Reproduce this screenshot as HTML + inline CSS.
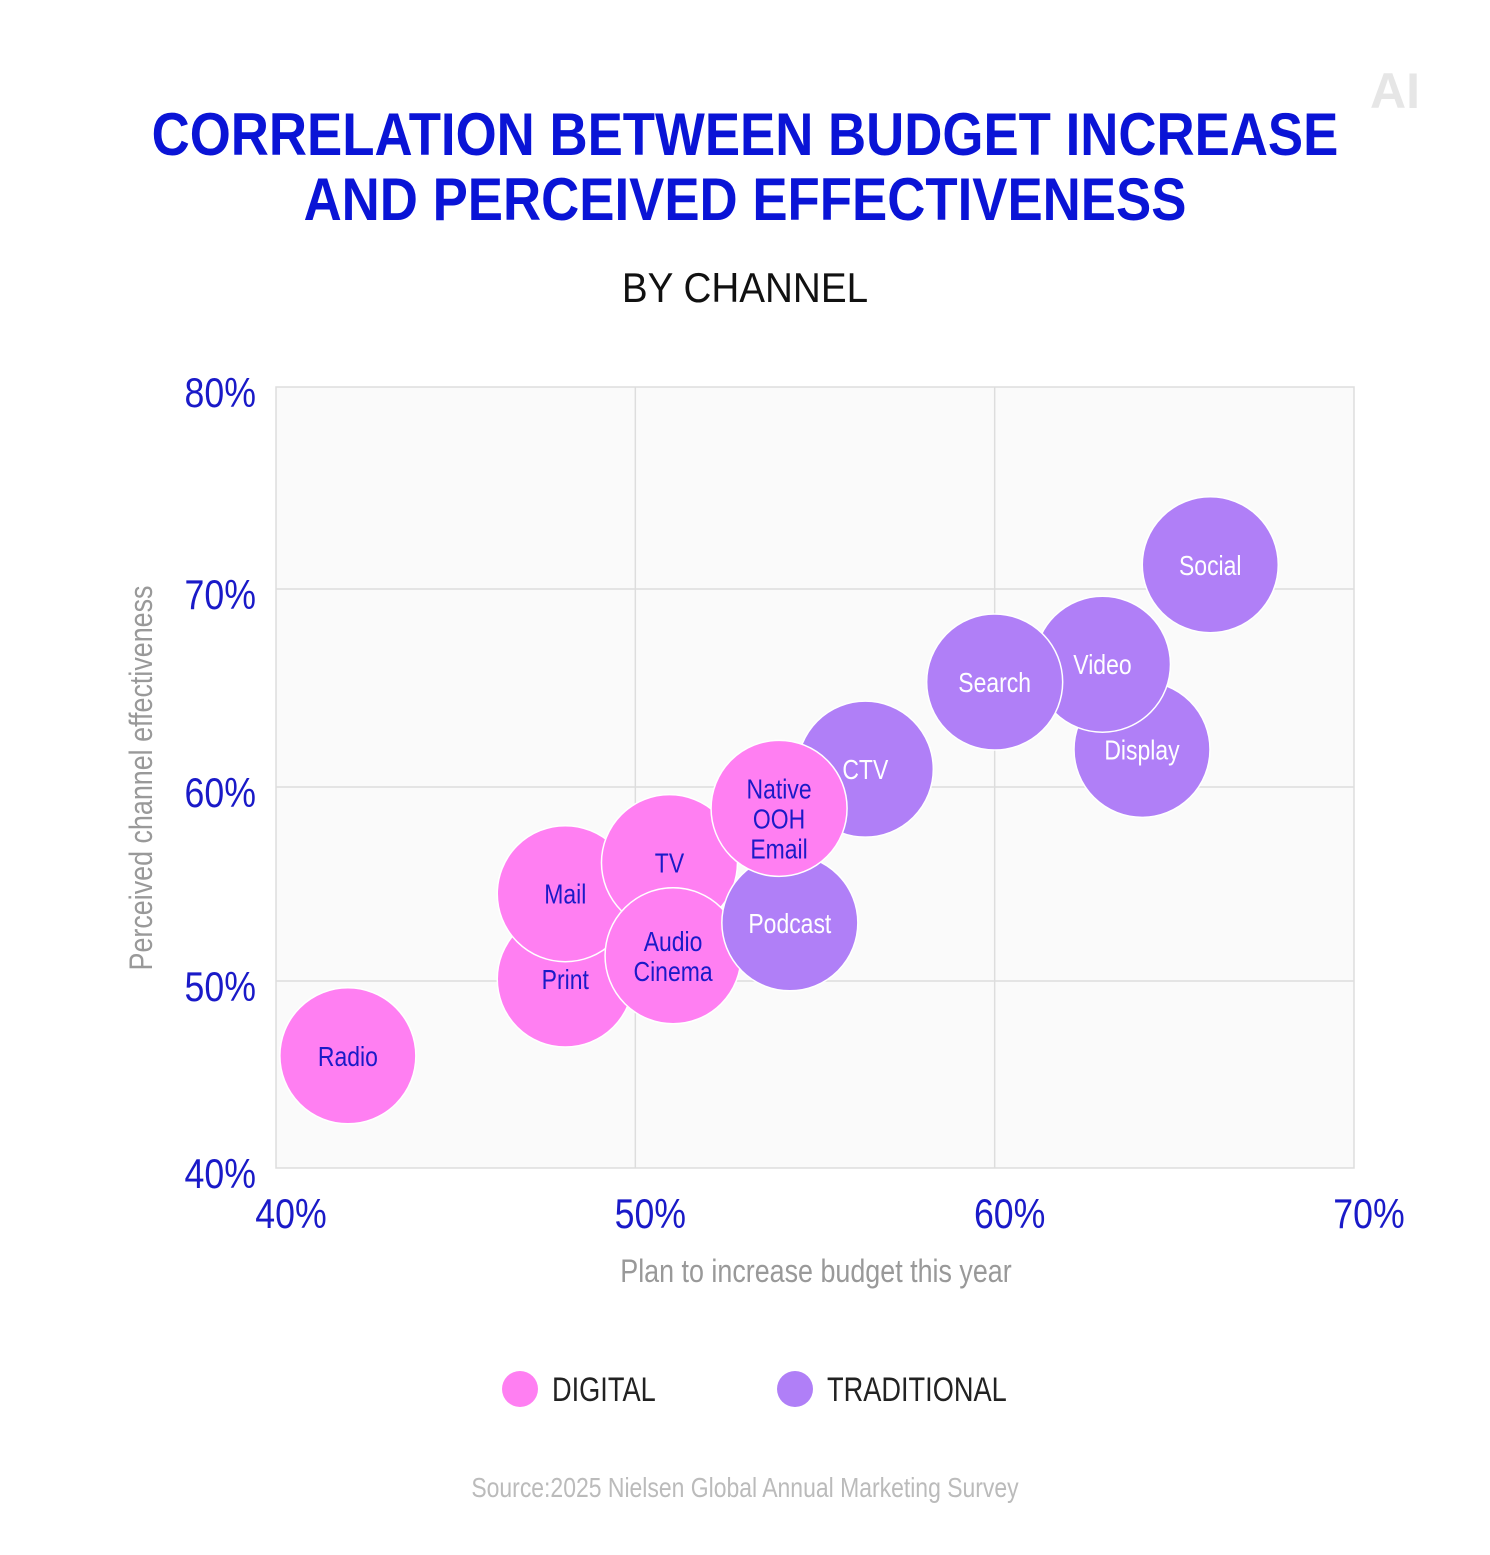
<!DOCTYPE html>
<html><head><meta charset="utf-8"><style>
body{margin:0;background:#fff;width:1490px;height:1550px;overflow:hidden;font-family:"Liberation Sans",sans-serif}
svg text{font-family:"Liberation Sans",sans-serif}
</style></head><body>
<svg id="chart" width="1490" height="1550">
<text x="1395" y="108" text-anchor="middle" font-size="50" font-weight="bold" fill="#e6e6e6">AI</text>
<text x="745" y="155" text-anchor="middle" font-size="60" font-weight="900" fill="#0a14d6" transform="translate(745,0) scale(0.88,1) translate(-745,0)">CORRELATION BETWEEN BUDGET INCREASE</text>
<text x="745" y="220" text-anchor="middle" font-size="60" font-weight="900" fill="#0a14d6" transform="translate(745,0) scale(0.88,1) translate(-745,0)">AND PERCEIVED EFFECTIVENESS</text>
<text x="745" y="302" text-anchor="middle" font-size="42" fill="#111" class="c" data-s="0.92">BY CHANNEL</text>
<rect x="276" y="387" width="1078" height="781" fill="#fafafa" stroke="#ddd" stroke-width="1.5"/>
<g id="grid"></g><g id="ticks"></g><g id="bubbles"></g>
<text x="816" y="1282" text-anchor="middle" font-size="32" fill="#999" class="c" data-s="0.84">Plan to increase budget this year</text>
<g transform="translate(152,778) rotate(-90)"><text x="0" y="0" text-anchor="middle" font-size="32" fill="#999" class="c" data-s="0.84">Perceived channel effectiveness</text></g>
<g>
<circle cx="520" cy="1389" r="18" fill="#ff7ff2"/>
<text x="552" y="1401" font-size="34" fill="#222" class="c" data-s="0.8">DIGITAL</text>
<circle cx="795" cy="1389" r="18" fill="#b07ff7"/>
<text x="827" y="1401" font-size="34" fill="#222" class="c" data-s="0.8">TRADITIONAL</text>
</g>
<text x="745" y="1497" text-anchor="middle" font-size="28" fill="#bbb" class="c" data-s="0.82">Source:2025 Nielsen Global Annual Marketing Survey</text>
</svg>
<script>
const xTicks=[40,50,60,70];
const yTicks=[40,50,60,70,80];
const names=["Radio","Print","Mail","TV","Audio\nCinema","Podcast","CTV","Native\nOOH\nEmail","Display","Video","Search","Social"];
const budget=[42.0,48.05,48.05,50.95,51.05,54.3,56.4,54.0,64.1,63.0,60.0,66.0];
const effect=[46.0,50.1,54.5,56.1,51.3,53.0,60.9,58.9,61.9,66.2,65.3,71.2];
const types=["digital","digital","digital","digital","digital","traditional","traditional","digital","traditional","traditional","traditional","traditional"];
const NS="http://www.w3.org/2000/svg";
function xs(v){return 276+(v-40)/30*1078;}
const yPix=[1168,981,787,589,387];
function ys(v){let i=Math.min(3,Math.max(0,Math.floor((v-40)/10)));let t=(v-yTicks[i])/10;return yPix[i]+t*(yPix[i+1]-yPix[i]);}
function mk(tag,attrs,parent){const e=document.createElementNS(NS,tag);for(const k in attrs)e.setAttribute(k,attrs[k]);parent.appendChild(e);return e;}
function squeeze(el,s){const x=parseFloat(el.getAttribute('x'));el.setAttribute('transform','translate('+x+',0) scale('+s+',1) translate('+(-x)+',0)');}
const grid=document.getElementById('grid'),ticks=document.getElementById('ticks'),bub=document.getElementById('bubbles');
xTicks.forEach(v=>{
 if(v>40&&v<70){const l=mk('line',{x1:xs(v),x2:xs(v),y1:387,y2:1168,stroke:'#ddd','stroke-width':1.5},grid);
 
 }
 const t=mk('text',{x:xs(v)+15,y:1228,'text-anchor':'middle','font-size':42,fill:'#1a1ac8'},ticks);t.textContent=v+'%';
 squeeze(t,0.85);
 
 
});
yTicks.forEach(v=>{
 if(v>40&&v<80){const l=mk('line',{x1:276,x2:1354,y1:ys(v),y2:ys(v),stroke:'#ddd','stroke-width':1.5},grid);
 
 }
 const t=mk('text',{x:256,y:ys(v)+20,'text-anchor':'end','font-size':42,fill:'#1a1ac8'},ticks);t.textContent=v+'%';
 squeeze(t,0.85);
 
 
});
names.forEach((n,i)=>{
 const cx=xs(budget[i]),cy=ys(effect[i]);
 const g=mk('g',{},bub);
 
 
 const dig=types[i]==='digital';
 mk('circle',{cx:cx,cy:cy,r:68,fill:dig?'#ff7ff2':'#b07ff7',stroke:'#fff','stroke-width':1.5},g);
 const lines=n.split('\n');
 const off=lines.length===3?10:0;
 lines.forEach((s,j)=>{
  const t=mk('text',{x:cx,y:cy+10+off+(j-(lines.length-1)/2)*30,'text-anchor':'middle','font-size':28,fill:dig?'#1a1ac8':'#fff'},g);
  t.textContent=s;
  squeeze(t,0.82);
  
  
 });
});
document.querySelectorAll('text.c').forEach(t=>squeeze(t,parseFloat(t.getAttribute('data-s'))));
</script>
</body></html>
